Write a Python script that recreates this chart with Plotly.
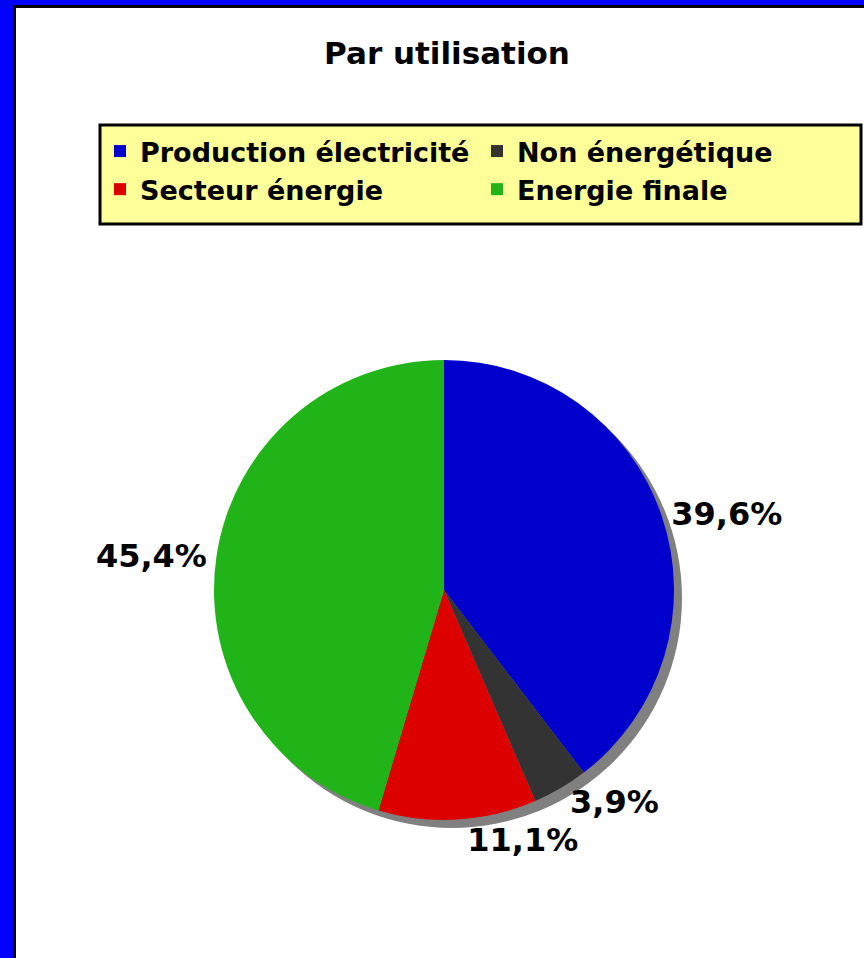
import plotly.graph_objects as go

W, H = 864, 958

# Données
usages = ["Production électricité", "Non énergétique", "Secteur énergie", "Energie finale"]
parts = [39.6, 3.9, 11.1, 45.4]
couleurs = ["#0000CC", "#333333", "#DD0000", "#20B418"]

titre = "Par utilisation"
police = "DejaVu Sans"


def px_x(x):
    return x / W


def px_y(y):
    # pixels depuis le haut -> coordonnée papier
    return 1 - y / H


# centre et rayon du camembert (pixels)
cx, cy, r = 444, 590, 230
ombre = 8

fig = go.Figure()

# ombre portée
fig.add_trace(go.Pie(
    values=[sum(parts)],
    labels=["ombre"],
    marker=dict(colors=["#808080"], line=dict(width=0)),
    textinfo="none",
    hoverinfo="skip",
    showlegend=False,
    sort=False,
    domain=dict(x=[px_x(cx - r + ombre), px_x(cx + r + ombre)],
                y=[px_y(cy + r + ombre), px_y(cy - r + ombre)]),
))

# texte noir via span, couleur de police transparente pour masquer les traits de rappel
fig.add_trace(go.Pie(
    labels=usages,
    values=parts,
    marker=dict(colors=couleurs, line=dict(width=0)),
    sort=False,
    direction="clockwise",
    rotation=0,
    texttemplate="<span style='color:black;fill-opacity:1'>%{percent}</span>",
    textposition="outside",
    textfont=dict(family=police, size=32, color="rgba(0,0,0,0)", weight="bold"),
    domain=dict(x=[px_x(cx - r), px_x(cx + r)],
                y=[px_y(cy + r), px_y(cy - r)]),
))

# cadre bleu / noir et fond de la légende
formes = [
    dict(type="rect", x0=0, x1=px_x(13), y0=0, y1=1, fillcolor="#0000FF", line=dict(width=0)),
    dict(type="rect", x0=0, x1=1, y0=px_y(5), y1=1, fillcolor="#0000FF", line=dict(width=0)),
    dict(type="rect", x0=px_x(13), x1=px_x(16), y0=0, y1=px_y(5), fillcolor="black", line=dict(width=0)),
    dict(type="rect", x0=px_x(13), x1=1, y0=px_y(8), y1=px_y(5), fillcolor="black", line=dict(width=0)),
    dict(type="rect", x0=px_x(100), x1=px_x(861), y0=px_y(224), y1=px_y(125),
         fillcolor="#FFFF99", line=dict(color="black", width=3)),
]
for f in formes:
    f.update(xref="paper", yref="paper", layer="below")

fig.update_layout(
    width=W,
    height=H,
    margin=dict(l=0, r=0, t=0, b=0, autoexpand=False),
    paper_bgcolor="white",
    plot_bgcolor="white",
    separators=", ",
    shapes=formes,
    title=dict(text=titre, x=px_x(447), xanchor="center", y=px_y(53), yanchor="middle",
               font=dict(family=police, size=31, color="black", weight="bold")),
    legend=dict(
        orientation="h",
        x=px_x(100), xanchor="left",
        y=px_y(127), yanchor="top",
        entrywidth=332,
        bgcolor="rgba(0,0,0,0)",
        borderwidth=0,
        font=dict(family=police, size=27, color="black", weight="bold"),
    ),
)

# pas de marge autour du graphique dans la page
fig.write_html("out.html", config={"displayModeBar": False},
               post_script="document.body.style.margin='0';")
